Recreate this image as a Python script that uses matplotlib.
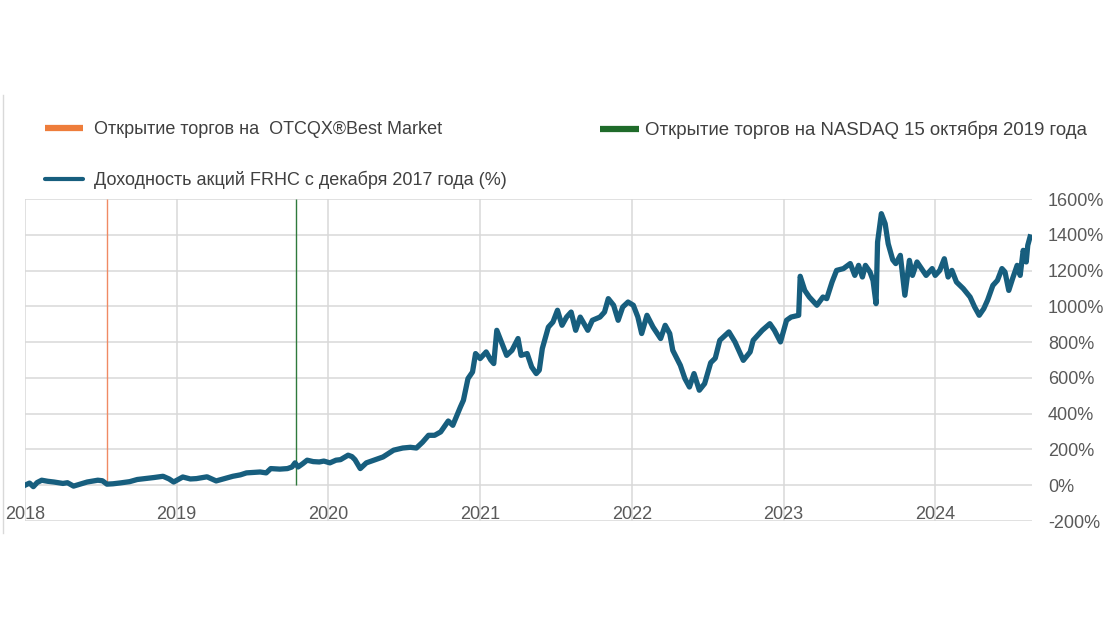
import matplotlib
matplotlib.use("Agg")
import matplotlib.pyplot as plt
from matplotlib.lines import Line2D

plt.rcParams['font.family'] = ['Liberation Sans', 'DejaVu Sans']

# FRHC return since Dec 2017, % (x in decimal years)
years = [2018.00, 2018.03, 2018.055, 2018.08, 2018.11, 2018.15, 2018.19, 2018.25, 2018.28, 2018.32,
         2018.36, 2018.41, 2018.48, 2018.51, 2018.54, 2018.58, 2018.63, 2018.69, 2018.74, 2018.80,
         2018.85, 2018.91, 2018.95, 2018.98, 2019.04, 2019.09, 2019.13, 2019.20, 2019.26, 2019.32,
         2019.37, 2019.42, 2019.46, 2019.55, 2019.59, 2019.62, 2019.68, 2019.73, 2019.76, 2019.78,
         2019.80, 2019.83, 2019.86, 2019.90, 2019.94, 2019.97, 2020.01, 2020.05, 2020.08, 2020.13,
         2020.155, 2020.175, 2020.21, 2020.25, 2020.31, 2020.36, 2020.43, 2020.49, 2020.54, 2020.58,
         2020.62, 2020.66, 2020.70, 2020.74, 2020.79, 2020.82, 2020.87, 2020.89, 2020.92, 2020.95,
         2020.97, 2021.00, 2021.04, 2021.07, 2021.09, 2021.11, 2021.14, 2021.175, 2021.21, 2021.25,
         2021.27, 2021.31, 2021.34, 2021.37, 2021.39, 2021.41, 2021.45, 2021.48, 2021.51, 2021.54,
         2021.57, 2021.60, 2021.63, 2021.66, 2021.71, 2021.74, 2021.79, 2021.82, 2021.845, 2021.88,
         2021.91, 2021.94, 2021.975, 2022.01, 2022.04, 2022.065, 2022.10, 2022.14, 2022.19, 2022.22,
         2022.25, 2022.27, 2022.32, 2022.35, 2022.38, 2022.41, 2022.445, 2022.48, 2022.52, 2022.55,
         2022.58, 2022.64, 2022.68, 2022.735, 2022.78, 2022.80, 2022.86, 2022.91, 2022.94, 2022.98,
         2023.02, 2023.05, 2023.10, 2023.11, 2023.14, 2023.17, 2023.22, 2023.26, 2023.285, 2023.32,
         2023.35, 2023.395, 2023.44, 2023.47, 2023.495, 2023.52, 2023.54, 2023.57, 2023.59, 2023.61,
         2023.62, 2023.645, 2023.67, 2023.69, 2023.72, 2023.74, 2023.77, 2023.80, 2023.83, 2023.85,
         2023.88, 2023.91, 2023.94, 2023.98, 2024.00, 2024.03, 2024.06, 2024.085, 2024.11, 2024.14,
         2024.185, 2024.23, 2024.26, 2024.29, 2024.32, 2024.345, 2024.38, 2024.41, 2024.44, 2024.46,
         2024.485, 2024.51, 2024.54, 2024.56, 2024.58, 2024.60, 2024.61, 2024.625]
returns = [0, 12, -8, 15, 28, 22, 18, 10, 14, -5,
           5, 18, 28, 25, 6, 8, 13, 20, 32, 38,
           43, 50, 35, 18, 46, 35, 37, 47, 24, 38,
           50, 58, 69, 74, 69, 93, 90, 93, 102, 125,
           102, 120, 140, 132, 130, 135, 125, 140, 143, 168,
           160, 143, 93, 125, 143, 158, 196, 208, 212, 208,
           240, 279, 279, 298, 359, 335, 437, 475, 596, 633,
           736, 708, 745, 700, 680, 866, 801, 726, 754, 820,
           726, 736, 661, 624, 643, 764, 884, 912, 978, 894,
           940, 968, 866, 940, 866, 922, 940, 968, 1043, 1006,
           922, 996, 1024, 1006, 940, 848, 950, 884, 820, 894,
           848, 754, 670, 596, 549, 624, 531, 568, 685, 710,
           810, 857, 801, 698, 745, 810, 866, 903, 866, 801,
           922, 940, 950, 1168, 1089, 1052, 1006, 1052, 1043, 1136,
           1201, 1211, 1239, 1173, 1229, 1164, 1229, 1192, 1145, 1015,
           1359, 1518, 1462, 1350, 1260, 1239, 1285, 1062, 1257, 1173,
           1248, 1211, 1173, 1211, 1173, 1201, 1266, 1164, 1201, 1136,
           1099, 1052, 996, 950, 987, 1034, 1117, 1145, 1211, 1192,
           1089, 1155, 1229, 1173, 1313, 1248, 1341, 1388]

year_ticks = [2018, 2019, 2020, 2021, 2022, 2023, 2024]
pct_ticks = [-200, 0, 200, 400, 600, 800, 1000, 1200, 1400, 1600]

otcqx_date = 2018.54    # OTCQX Best Market listing
nasdaq_date = 2019.786  # 15 Oct 2019

label_otcqx = 'Открытие торгов на  OTCQX®Best Market'
label_nasdaq = 'Открытие торгов на NASDAQ 15 октября 2019 года'
label_return = 'Доходность акций FRHC с декабря 2017 года (%)'

line_color = '#175e7e'
orange = '#ee7d3b'
green = '#1f6b2a'
text_color = '#595959'
grid_color = '#d9d9d9'

fig = plt.figure(figsize=(11.2, 6.3), dpi=100)
ax = fig.add_axes([25/1120, 1 - 521/630, 1007/1120, 322/630])

ax.vlines(otcqx_date, 0, 1600, color='#f08a64', lw=1, zorder=2)
ax.vlines(nasdaq_date, 0, 1600, color='#2f7a3c', lw=1, zorder=2)
ax.plot(years, returns, color=line_color, lw=3.8, solid_joinstyle='round', zorder=3)

ax.set_xlim(2018, 2024.638)
ax.set_ylim(-200, 1600)
ax.set_xticks(year_ticks)
ax.set_xticklabels([str(y) for y in year_ticks])
ax.set_yticks(pct_ticks)
ax.set_yticklabels([f'{v}%' for v in pct_ticks])
ax.yaxis.tick_right()
for lbl in ax.get_yticklabels():
    lbl.set_horizontalalignment('left')
ax.tick_params(axis='y', length=0, pad=11.5, labelsize=13, labelcolor=text_color)
ax.tick_params(axis='x', length=0, pad=-11, labelsize=13, labelcolor=text_color)

ax.grid(True, color=grid_color, lw=1.1, zorder=0)
ax.set_axisbelow(True)
for s in ax.spines.values():
    s.set_visible(False)

# outer frame piece on the left
fig.add_artist(Line2D([3/1120, 3/1120], [1 - 95/630, 1 - 533/630], color=grid_color, lw=1))

h_otcqx = Line2D([], [], color=orange, lw=4.5, solid_capstyle='butt')
h_nasdaq = Line2D([], [], color=green, lw=4.5, solid_capstyle='butt')
h_return = Line2D([], [], color=line_color, lw=3, solid_capstyle='round')

leg1 = fig.legend([h_otcqx, h_return], [label_otcqx, label_return], loc='upper left',
                  bbox_to_anchor=(45/1120, 1 - 121/630), frameon=False, fontsize=13,
                  handlelength=2.1, handletextpad=0.6, labelspacing=1.83, borderpad=0,
                  borderaxespad=0, labelcolor='#404040')
leg2 = fig.legend([h_nasdaq], [label_nasdaq], loc='upper left',
                  bbox_to_anchor=(600/1120, 1 - 121/630), frameon=False, fontsize=13.4,
                  handlelength=2.1, handletextpad=0.3, borderpad=0,
                  borderaxespad=0, labelcolor='#404040')

fig.savefig('out.png', dpi=100)
